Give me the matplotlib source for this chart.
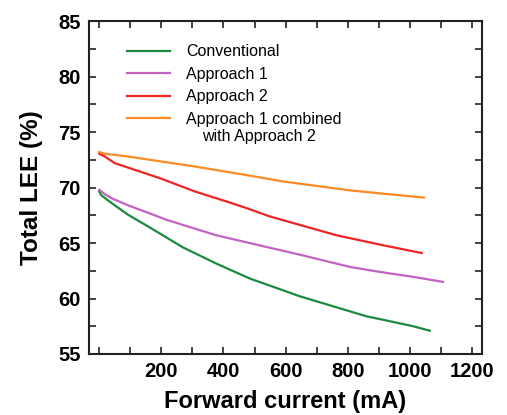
import numpy as np
import matplotlib
matplotlib.use('Agg')
import matplotlib.pyplot as plt

plt.rcParams['font.family'] = ['Liberation Sans', 'DejaVu Sans']

# data (forward current in mA, LEE in %)
conv_x = [0, 7, 28, 50, 93, 163, 270, 377, 485, 646, 860, 903, 1011, 1064]
conv_y = [69.65, 69.3, 68.85, 68.4, 67.55, 66.4, 64.6, 63.15, 61.8, 60.2, 58.4, 58.15, 57.5, 57.1]

app1_x = [0, 18, 39, 93, 179, 216, 377, 538, 646, 807, 903, 1011, 1107]
app1_y = [69.8, 69.4, 69.05, 68.4, 67.5, 67.1, 65.7, 64.65, 63.95, 62.85, 62.4, 61.95, 61.5]

app2_x = [0, 18, 34, 50, 93, 200, 308, 415, 469, 549, 764, 914, 1038]
app2_y = [73.05, 72.8, 72.5, 72.2, 71.8, 70.8, 69.65, 68.7, 68.2, 67.4, 65.7, 64.8, 64.1]

comb_x = [0, 18, 93, 200, 308, 469, 592, 807, 914, 1045]
comb_y = [73.2, 73.05, 72.8, 72.35, 71.9, 71.15, 70.55, 69.75, 69.45, 69.1]

labels = ['Conventional', 'Approach 1', 'Approach 2', 'Approach 1 combined']
colors = ['#1b8a3e', '#c263c2', '#f02424', '#ff8a24']

xticks = [200, 400, 600, 800, 1000, 1200]
xminor = [0, 100, 300, 500, 700, 900, 1100]
yticks = [55, 60, 65, 70, 75, 80, 85]

fig = plt.figure(figsize=(5.07, 4.15), dpi=100)
ax = fig.add_axes([0.1755, 0.147, 0.775, 0.802])

series = [(conv_x, conv_y), (app1_x, app1_y), (app2_x, app2_y), (comb_x, comb_y)]
for (xs, ys), lab, c in zip(series, labels, colors):
    ax.plot(xs, ys, '-', color=c, lw=1.6, label=lab)

ax.set_xlim(-33, 1232)
ax.set_ylim(55, 85)
ax.set_xticks(xticks)
ax.set_xticks(xminor, minor=True)
ax.set_yticks(yticks)
ax.set_yticks(np.arange(57.5, 85, 5), minor=True)

ax.tick_params(which='both', direction='in', top=True, right=True,
               length=5, width=1.2, color='#222222')
ax.tick_params(which='major', labelsize=14.5, pad=6)
for lab in ax.get_xticklabels() + ax.get_yticklabels():
    lab.set_fontweight('bold')
for sp in ax.spines.values():
    sp.set_linewidth(1.5)
    sp.set_color('#222222')

ax.set_xlabel('Forward current (mA)', fontsize=17, fontweight='bold', labelpad=6)
ax.set_ylabel('Total LEE (%)', fontsize=17.5, fontweight='bold', labelpad=11)

# legend: fourth label's second line is placed as a separate text
leg = ax.legend(loc='upper left', bbox_to_anchor=(0.096, 0.93), frameon=False,
                fontsize=11.5, handlelength=2.7, handletextpad=1.0,
                labelspacing=0.46, borderpad=0, borderaxespad=0)
ax.text(0.287, 0.653, 'with Approach 2', transform=ax.transAxes,
        fontsize=11.5, va='center', ha='left')

fig.savefig('out.png', dpi=100)
